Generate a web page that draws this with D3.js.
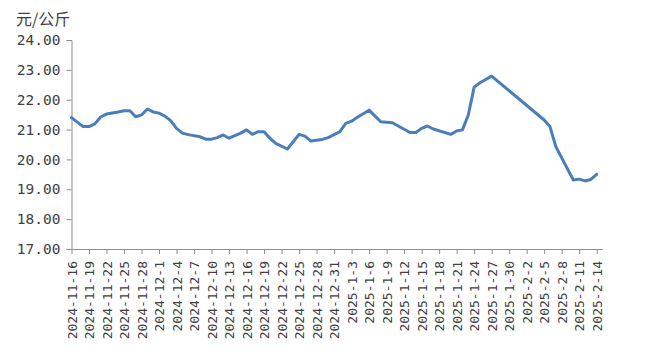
<!DOCTYPE html>
<html>
<head>
<meta charset="utf-8">
<script src="https://cdn.jsdelivr.net/npm/d3@7"></script>
<style>
  body { margin: 0; background: #fff; }
  svg { display: block; }
</style>
</head>
<body>
<svg></svg>
<script>
var width = 645;
var height = 359;

// price series (date -> 元/公斤)
var dates = [
  '2024-11-16', '2024-11-18', '2024-11-19', '2024-11-20', '2024-11-21', '2024-11-22',
  '2024-11-24', '2024-11-25', '2024-11-26', '2024-11-27', '2024-11-28', '2024-11-29',
  '2024-11-30', '2024-12-1', '2024-12-2', '2024-12-3', '2024-12-4', '2024-12-5',
  '2024-12-6', '2024-12-8', '2024-12-9', '2024-12-10', '2024-12-11', '2024-12-12',
  '2024-12-13', '2024-12-15', '2024-12-16', '2024-12-17', '2024-12-18', '2024-12-19',
  '2024-12-20', '2024-12-21', '2024-12-23', '2024-12-24', '2024-12-25', '2024-12-26',
  '2024-12-27', '2024-12-29', '2024-12-30', '2025-1-1', '2025-1-2', '2025-1-3',
  '2025-1-4', '2025-1-6', '2025-1-8', '2025-1-10', '2025-1-13', '2025-1-14',
  '2025-1-15', '2025-1-16', '2025-1-17', '2025-1-20', '2025-1-21', '2025-1-22',
  '2025-1-23', '2025-1-24', '2025-1-25', '2025-1-27', '2025-2-5', '2025-2-6',
  '2025-2-7', '2025-2-10', '2025-2-11', '2025-2-12', '2025-2-13', '2025-2-14'
];
var prices = [
  21.40, 21.10, 21.10, 21.19, 21.42, 21.52,
  21.59, 21.63, 21.63, 21.43, 21.49, 21.69,
  21.59, 21.55, 21.45, 21.30, 21.04, 20.88,
  20.83, 20.76, 20.68, 20.68, 20.73, 20.82,
  20.71, 20.88, 20.99, 20.84, 20.93, 20.93,
  20.71, 20.54, 20.35, 20.59, 20.84, 20.78,
  20.62, 20.67, 20.73, 20.93, 21.21, 21.28,
  21.41, 21.65, 21.26, 21.23, 20.90, 20.90,
  21.04, 21.12, 21.02, 20.84, 20.95, 20.99,
  21.49, 22.42, 22.57, 22.79, 21.32, 21.10,
  20.43, 19.31, 19.34, 19.28, 19.33, 19.50
];

// axis labels
var yTicks = [17, 18, 19, 20, 21, 22, 23, 24];
var xTickLabels = [
  '2024-11-16', '2024-11-19', '2024-11-22', '2024-11-25', '2024-11-28', '2024-12-1',
  '2024-12-4', '2024-12-7', '2024-12-10', '2024-12-13', '2024-12-16', '2024-12-19',
  '2024-12-22', '2024-12-25', '2024-12-28', '2024-12-31', '2025-1-3', '2025-1-6',
  '2025-1-9', '2025-1-12', '2025-1-15', '2025-1-18', '2025-1-21', '2025-1-24',
  '2025-1-27', '2025-1-30', '2025-2-2', '2025-2-5', '2025-2-8', '2025-2-11', '2025-2-14'
];
var unitLabel = '元/公斤';

function parseDate(s) {
  var p = s.split('-').map(Number);
  return new Date(Date.UTC(p[0], p[1] - 1, p[2]));
}

var data = dates.map((d, i) => ({ date: parseDate(d), value: prices[i] }));

var margin = { left: 71.5, right: 42.5, top: 40, bottom: 110 };

var x = d3.scaleUtc()
  .domain([parseDate('2024-11-16'), parseDate('2025-2-15')])
  .range([margin.left, width - margin.right]);

var y = d3.scaleLinear()
  .domain([17, 24])
  .range([height - margin.bottom, margin.top]);

var svg = d3.select('svg')
  .attr('width', width)
  .attr('height', height);

var axisColor = '#8c8c8c';
var textColor = '#404040';

// y axis
var yAxis = svg.append('g')
  .attr('transform', 'translate(' + margin.left + ',0)')
  .call(d3.axisLeft(y)
    .tickValues(yTicks)
    .tickSize(5)
    .tickPadding(6)
    .tickFormat(d3.format('.2f')));

yAxis.select('.domain').attr('stroke', axisColor);
yAxis.selectAll('.tick line').attr('stroke', axisColor);
yAxis.selectAll('.tick text')
  .attr('fill', textColor)
  .style('font-family', '"DejaVu Sans Mono", "Liberation Mono", monospace')
  .style('font-size', '14.5px');

// x axis
var xAxis = svg.append('g')
  .attr('transform', 'translate(0,' + y(17) + ')')
  .call(d3.axisBottom(x)
    .tickValues(xTickLabels.map(parseDate))
    .tickSize(5)
    .tickSizeOuter(0)
    .tickFormat((d, i) => xTickLabels[i]));

xAxis.select('.domain').attr('stroke', axisColor);
xAxis.selectAll('.tick line').attr('stroke', axisColor);
xAxis.selectAll('.tick text')
  .attr('fill', textColor)
  .attr('transform', 'rotate(-90)')
  .attr('text-anchor', 'end')
  .attr('x', -12)
  .attr('y', 0)
  .attr('dy', '0.35em')
  .style('font-family', '"DejaVu Sans Mono", "Liberation Mono", monospace')
  .style('font-size', '13px');

// unit label
svg.append('text')
  .attr('x', 16)
  .attr('y', 25)
  .attr('fill', textColor)
  .style('font-family', '"Noto Sans CJK SC", sans-serif')
  .style('font-size', '16px')
  .text(unitLabel);

// price line
var line = d3.line()
  .x(d => x(d.date))
  .y(d => y(d.value));

svg.append('path')
  .datum(data)
  .attr('fill', 'none')
  .attr('stroke', '#4a7ebb')
  .attr('stroke-width', 3)
  .attr('stroke-linejoin', 'round')
  .attr('stroke-linecap', 'round')
  .attr('d', line);
</script>
</body>
</html>
